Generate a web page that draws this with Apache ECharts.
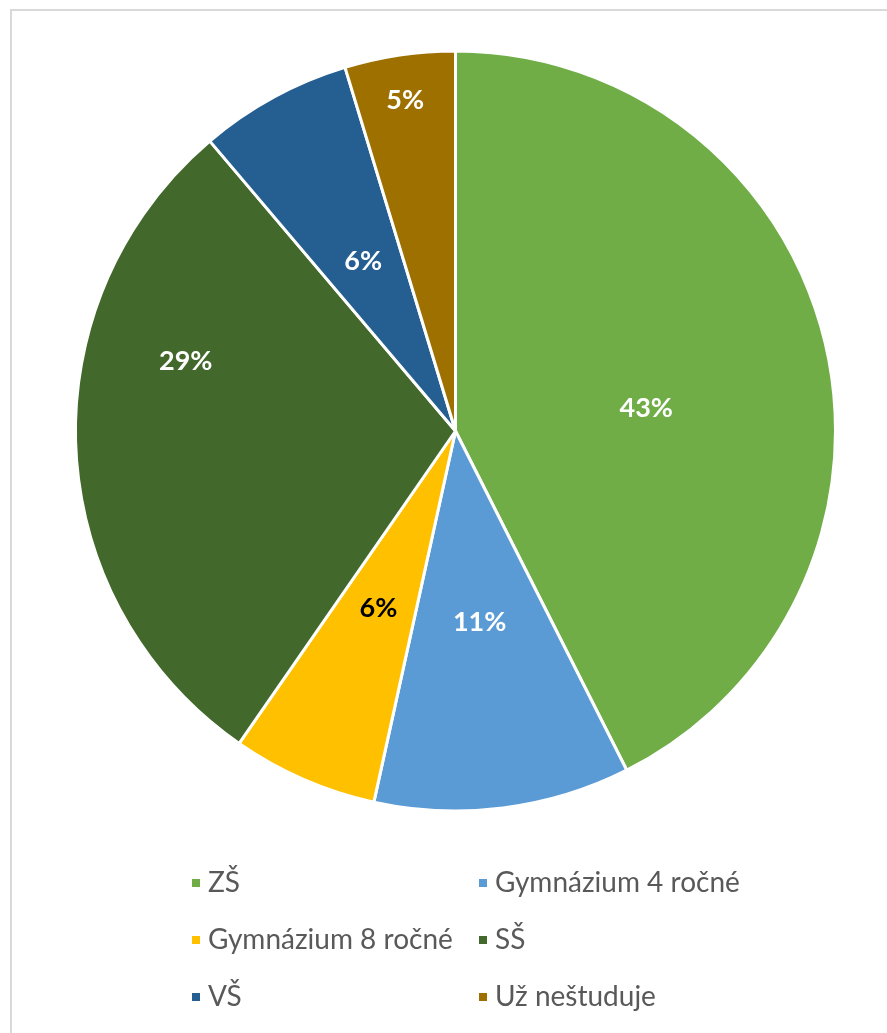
<!DOCTYPE html>
<html>
<head>
<meta charset="utf-8">
<script src="https://cdn.jsdelivr.net/npm/echarts@6/dist/echarts.min.js"></script>
<style>
  html, body { margin: 0; padding: 0; background: #fff; }
  #frame { position: absolute; left: 10px; top: 9px; width: 900px; height: 1100px; border-left: 2px solid #d9d9d9; border-top: 2px solid #d9d9d9; box-sizing: border-box; }
  #chart { position: absolute; left: 0; top: 0; width: 887px; height: 1033px; }
</style>
</head>
<body>
<div id="frame"></div>
<div id="chart"></div>
<script>
const categories = ['ZŠ', 'Gymnázium 4 ročné', 'Gymnázium 8 ročné', 'SŠ', 'VŠ', 'Už neštuduje'];
const values = [42.6, 10.9, 6.2, 29.2, 6.5, 4.7];
const colors = ['#70AD47', '#5B9BD5', '#FFC000', '#43682B', '#255E91', '#9E7000'];
const labelColors = ['#fff', '#fff', '#000', '#fff', '#fff', '#fff'];
const labelOffsets = [[3, 22], [0, 0], [0, 0], [-77, -79], [0, 0], [-22, -140]];
const legendPos = [[185, 878], [472, 878], [185, 935], [472, 935], [185, 992], [472, 992]];

const chart = echarts.init(document.getElementById('chart'), null, { renderer: 'canvas' });
const font = 'Lato, "Open Sans", sans-serif';

const legends = categories.map((c, i) => ({
  data: [c],
  left: legendPos[i][0],
  top: legendPos[i][1] - 16,
  icon: 'rect',
  itemWidth: 10,
  itemHeight: 10,
  itemGap: 0,
  selectedMode: false,
  textStyle: { color: '#595959', fontSize: 28, lineHeight: 32, fontFamily: font, padding: [0, 0, 0, 2] }
}));

chart.setOption({
  animation: false,
  color: colors,
  legend: legends,
  series: [{
    type: 'pie',
    center: [455.5, 431],
    radius: [0, 380],
    startAngle: 90,
    clockwise: true,
    avoidLabelOverlap: false,
    itemStyle: { borderColor: '#fff', borderWidth: 3 },
    label: {
      show: true,
      position: 'inside',
      fontFamily: font,
      fontWeight: 'bold',
      fontSize: 27,
      formatter: p => Math.round(p.percent) + '%'
    },
    labelLine: { show: false },
    emphasis: { disabled: true },
    data: categories.map((c, i) => ({
      name: c,
      value: values[i],
      label: { color: labelColors[i], offset: labelOffsets[i] }
    }))
  }]
});
</script>
</body>
</html>
